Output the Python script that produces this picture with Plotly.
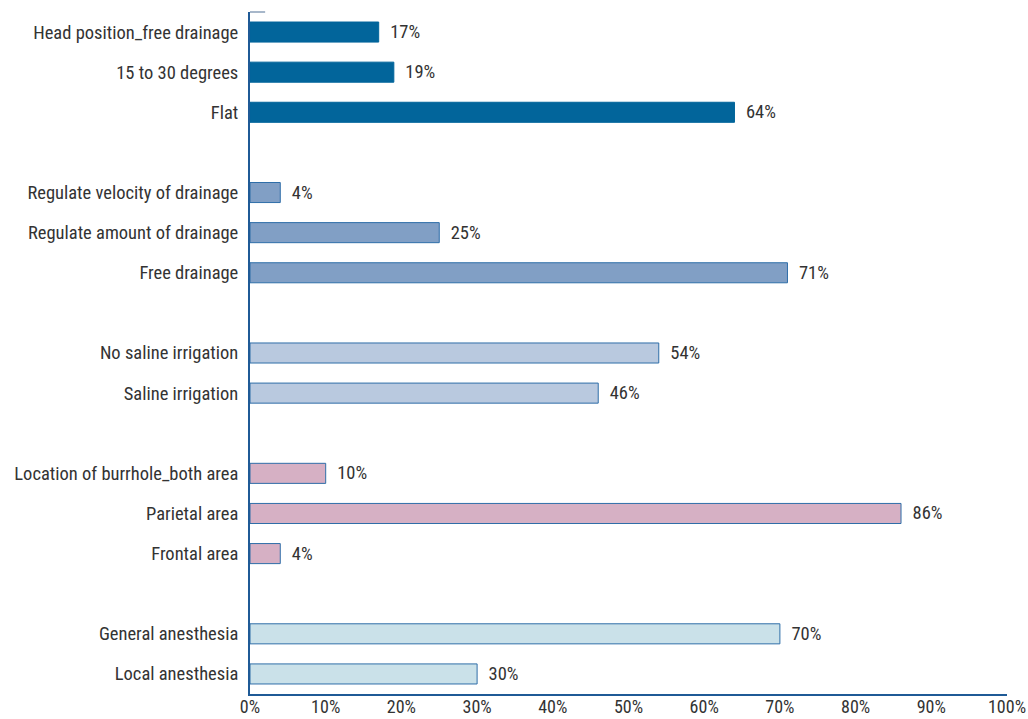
import plotly.graph_objects as go

# Data (top to bottom), blank strings are spacer rows between groups
categories = [
    "Head position_free drainage", "15 to 30 degrees", "Flat", " ",
    "Regulate velocity of drainage", "Regulate amount of drainage", "Free drainage", "  ",
    "No saline irrigation", "Saline irrigation", "   ",
    "Location of burrhole_both area", "Parietal area", "Frontal area", "    ",
    "General anesthesia", "Local anesthesia",
]
bar_labels = [
    "Head position_free drainage", "15 to 30 degrees", "Flat",
    "Regulate velocity of drainage", "Regulate amount of drainage", "Free drainage",
    "No saline irrigation", "Saline irrigation",
    "Location of burrhole_both area", "Parietal area", "Frontal area",
    "General anesthesia", "Local anesthesia",
]
values = [17, 19, 64, 4, 25, 71, 54, 46, 10, 86, 4, 70, 30]
group_colors = (["#02659b"] * 3 + ["#819fc5"] * 3 + ["#b9c9df"] * 2
                + ["#d6b0c4"] * 3 + ["#cae1e9"] * 2)
line_colors = (["#02659b"] * 3 + ["#2f6ea8"] * 10)

FONT = "Liberation Sans Narrow, Roboto Condensed, Arial Narrow, sans-serif"
FS = 18.5

fig = go.Figure(go.Bar(
    x=values,
    y=bar_labels,
    orientation="h",
    marker=dict(color=group_colors, line=dict(color=line_colors, width=1)),
    width=0.5,
    text=[f"  {v}%" for v in values],
    textposition="outside",
    constraintext="none",
    textfont=dict(size=FS, color="#333333", family=FONT),
    cliponaxis=False,
))

fig.update_layout(
    width=1028, height=719,
    margin=dict(l=250, r=21, t=12, b=25),
    paper_bgcolor="white", plot_bgcolor="white",
    showlegend=False,
    font=dict(family=FONT, size=FS, color="#333333"),
    bargap=0.5,
    xaxis=dict(
        range=[0, 100], dtick=10, ticksuffix="%",
        showgrid=False, zeroline=False, automargin=False,
        showline=True, linecolor="#1f5a96", linewidth=2,
        ticks="", ticklen=0, ticklabelstandoff=-5,
        tickfont=dict(size=18, color="#333333"),
    ),
    yaxis=dict(
        type="category",
        categoryorder="array",
        categoryarray=list(reversed(categories)),
        range=[-0.5, len(categories) - 0.5],
        showgrid=False, zeroline=False, automargin=False,
        showline=True, linecolor="#1f5a96", linewidth=2,
        ticks="", ticklabelstandoff=6,
        tickfont=dict(size=FS, color="#333333"),
    ),
    shapes=[dict(type="line", xref="paper", yref="paper",
                 x0=0, x1=0.02, y0=1, y1=1,
                 line=dict(color="#8a9fb8", width=1.5))],
)

fig.write_html("out.html")
